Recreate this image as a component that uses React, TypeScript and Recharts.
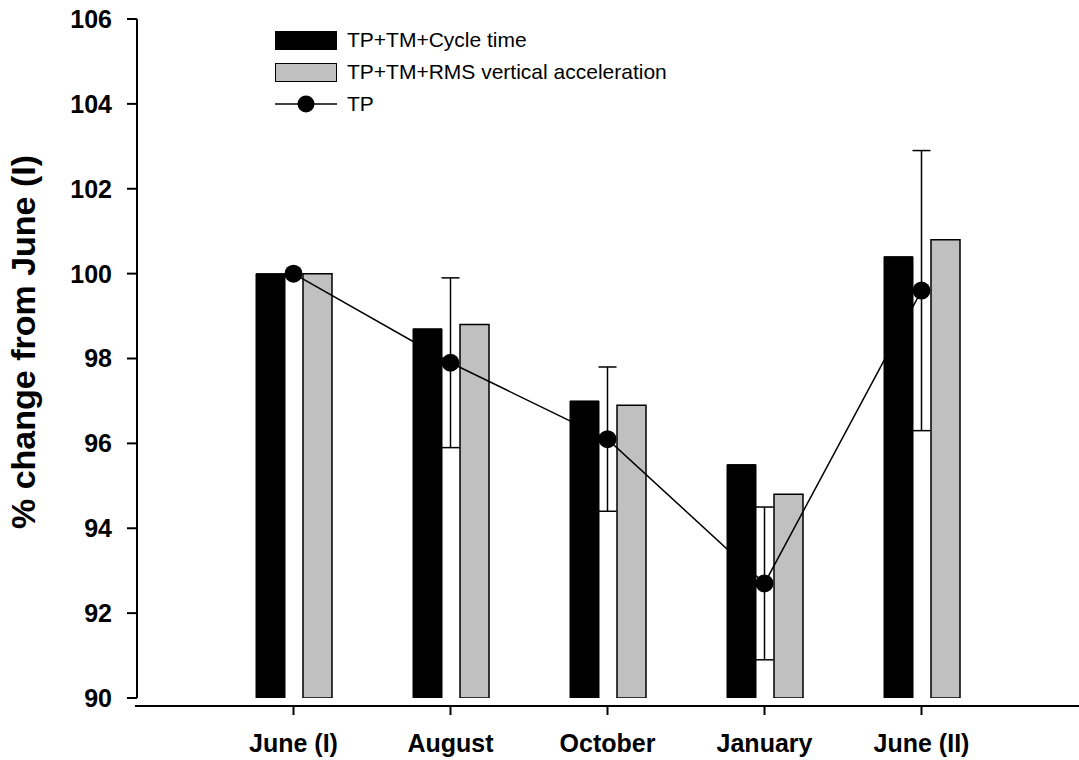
import {
  ComposedChart,
  Bar,
  Line,
  ErrorBar,
  XAxis,
  YAxis,
  Legend,
  ReferenceLine,
  Label,
} from "recharts";

const months = ["June (I)", "August", "October", "January", "June (II)"];
const cycleTime = [100, 98.7, 97.0, 95.5, 100.4];
const rmsAccel = [100, 98.8, 96.9, 94.8, 100.8];
const tp = [100, 97.9, 96.1, 92.7, 99.6];
const tpLow: (number | null)[] = [null, 95.9, 94.4, 90.9, 96.3];
const tpHigh: (number | null)[] = [null, 99.9, 97.8, 94.5, 102.9];
const yTicks = [90, 92, 94, 96, 98, 100, 102, 104, 106];

const seriesNames = {
  cycle: "TP+TM+Cycle time",
  rms: "TP+TM+RMS vertical acceleration",
  tp: "TP",
};

const FONT = '"Liberation Sans", Arial, Helvetica, sans-serif';

const chartData = months.map((m, i) => ({
  month: m,
  cycle: cycleTime[i],
  rms: rmsAccel[i],
  tp: tp[i],
  tpErr:
    tpLow[i] == null || tpHigh[i] == null
      ? null
      : [tp[i] - (tpLow[i] as number), (tpHigh[i] as number) - tp[i]],
}));

function MonthTick(props: any) {
  const { x, y, payload } = props;
  return (
    <g>
      <line x1={x} x2={x} y1={y + 8} y2={y + 17} stroke="#000" strokeWidth={2} />
      <text
        x={x}
        y={y + 54}
        textAnchor="middle"
        fontSize={25}
        fontWeight="bold"
        fill="#000"
        fontFamily={FONT}
      >
        {payload.value}
      </text>
    </g>
  );
}

// x axis line sits a few pixels below the 90 level, as in the original
function OffsetAxisLine(props: any) {
  const { x1, x2, y1 } = props;
  return <line x1={x1 - 2} x2={x2} y1={y1 + 8} y2={y1 + 8} stroke="#000" strokeWidth={2} />;
}

function LegendBox() {
  const row = { display: "flex", alignItems: "center", height: 32 } as const;
  const text = { marginLeft: 10, fontSize: 21, color: "#000", fontFamily: FONT };
  return (
    <div>
      <div style={row}>
        <div style={{ width: 62, height: 19, background: "#000" }} />
        <span style={text}>{seriesNames.cycle}</span>
      </div>
      <div style={row}>
        <div
          style={{
            width: 60,
            height: 17,
            background: "#c0c0c0",
            border: "1px solid #000",
          }}
        />
        <span style={text}>{seriesNames.rms}</span>
      </div>
      <div style={row}>
        <svg width={62} height={20}>
          <line x1={0} x2={62} y1={10} y2={10} stroke="#000" strokeWidth={1.5} />
          <circle cx={31} cy={10} r={8.5} fill="#000" />
        </svg>
        <span style={text}>{seriesNames.tp}</span>
      </div>
    </div>
  );
}

export default function App() {
  return (
    <div
      style={{
        position: "absolute",
        left: 0,
        top: 0,
        width: 1079,
        height: 760,
        background: "#fff",
        fontFamily: FONT,
      }}
    >
      <ComposedChart
        width={1079}
        height={760}
        data={chartData}
        margin={{ top: 19, right: 0, bottom: 0, left: 0 }}
        barGap={18}
      >
        <XAxis
          dataKey="month"
          height={62}
          padding={{ left: 78, right: 79 }}
          axisLine={false}
          tickLine={false}
          tickSize={0}
          tickMargin={0}
          tick={<MonthTick />}
          interval={0}
        />
        <YAxis
          width={137}
          domain={[90, 106]}
          ticks={yTicks}
          allowDataOverflow
          tickSize={10}
          tickMargin={15}
          axisLine={{ stroke: "#000", strokeWidth: 2 }}
          tickLine={{ stroke: "#000", strokeWidth: 2 }}
          tick={{ fontSize: 25, fontWeight: "bold", fill: "#000", fontFamily: FONT }}
        >
          <Label
            content={() => (
              <text
                transform="translate(35,342) rotate(-90)"
                textAnchor="middle"
                fontSize={34}
                fontWeight="bold"
                fill="#000"
                fontFamily={FONT}
              >
                % change from June (I)
              </text>
            )}
          />
        </YAxis>
        <ReferenceLine y={90} shape={<OffsetAxisLine />} />
        <Legend
          layout="vertical"
          align="center"
          verticalAlign="middle"
          wrapperStyle={{ left: 275, top: 24, width: 520 }}
          content={() => <LegendBox />}
        />
        <Bar
          dataKey="cycle"
          name={seriesNames.cycle}
          barSize={29}
          fill="#000"
          stroke="#000"
          strokeWidth={1}
          isAnimationActive={false}
        />
        <Bar
          dataKey="rms"
          name={seriesNames.rms}
          barSize={29}
          fill="#c0c0c0"
          stroke="#000"
          strokeWidth={1.5}
          isAnimationActive={false}
        />
        <Line
          dataKey="tp"
          name={seriesNames.tp}
          type="linear"
          stroke="#000"
          strokeWidth={1.5}
          dot={{ r: 9, fill: "#000", stroke: "#000", strokeWidth: 0 }}
          activeDot={false}
          isAnimationActive={false}
        >
          <ErrorBar dataKey="tpErr" direction="y" width={9} stroke="#000" strokeWidth={1.5} />
        </Line>
      </ComposedChart>
    </div>
  );
}
